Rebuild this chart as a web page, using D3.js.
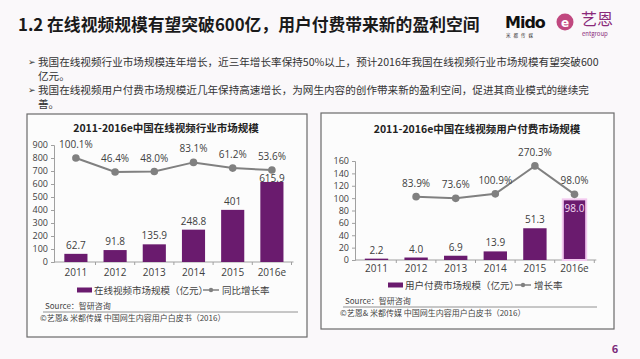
<!DOCTYPE html>
<html><head><meta charset="utf-8">
<script src="https://cdn.jsdelivr.net/npm/d3@7"></script>
<style>
html,body{margin:0;padding:0;background:#faf8fa;}
svg{display:block;font-family:"Noto Sans CJK SC","Noto Sans",sans-serif;}
</style></head>
<body>
<svg id="c" width="640" height="359"></svg>
<script>
// ---------- data ----------
const years = ["2011","2012","2013","2014","2015","2016e"];
const marketSize = [62.7, 91.8, 135.9, 248.8, 401, 615.9];
const marketGrowth = [100.1, 46.4, 48.0, 83.1, 61.2, 53.6];
const paySize = [2.2, 4.0, 6.9, 13.9, 51.3, 98.0];
const payGrowth = [null, 83.9, 73.6, 100.9, 270.3, 98.0];
const leftTicks = [0,100,200,300,400,500,600,700,800,900];
const rightTicks = [0,20,40,60,80,100,120,140,160];

const pageTitle = "1.2 在线视频规模有望突破600亿，用户付费带来新的盈利空间";
const bullets = [
  ["我国在线视频行业市场规模连年增长，近三年增长率保持50%以上，预计2016年我国在线视频行业市场规模有望突破600","亿元。"],
  ["我国在线视频用户付费市场规模近几年保持高速增长，为网生内容的创作带来新的盈利空间，促进其商业模式的继续完","善。"]
];

const svg = d3.select("#c");
const BAR = "#6a1b6e", LINE = "#808080", TXT = "#404040";

// ---------- header ----------
svg.append("text").attr("x",18).attr("y",31).attr("font-size",16.8).attr("font-weight","bold")
  .attr("fill","#1a1a1a").text(pageTitle);

// logo
const logo = svg.append("g");
logo.append("text").attr("x",505).attr("y",28).attr("font-size",16).attr("font-weight","bold")
  .attr("font-family","DejaVu Sans, sans-serif").attr("fill","#111").attr("letter-spacing",-1).text("Mido");
logo.append("text").attr("x",506).attr("y",37).attr("font-size",4.5).attr("fill","#333").attr("letter-spacing",3).text("米都传媒");
logo.append("circle").attr("cx",565).attr("cy",22).attr("r",8.5).attr("fill","#c0487f");
logo.append("text").attr("x",565).attr("y",26.5).attr("text-anchor","middle").attr("font-size",12).attr("font-weight","bold")
  .attr("fill","#fff").attr("font-family","DejaVu Sans, sans-serif").text("e");
logo.append("text").attr("x",581).attr("y",25).attr("font-size",16).attr("fill","#8a2a7a").text("艺恩");
logo.append("text").attr("x",582).attr("y",36).attr("font-size",6).attr("fill","#8a2a7a").text("entgroup");

// bullets
const by = [66, 80, 94, 108];
let li = 0;
bullets.forEach(b => {
  b.forEach((line, k) => {
    if (k === 0) svg.append("text").attr("x",28).attr("y",by[li]-1).attr("font-size",9).attr("fill","#333").text("➢");
    svg.append("text").attr("x",38).attr("y",by[li]).attr("font-size",10.6).attr("fill","#333").text(line);
    li++;
  });
});

// ---------- panels ----------
function panel(o) {
  const g = svg.append("g");
  g.append("rect").attr("x",o.box[0]).attr("y",o.box[1]).attr("width",o.box[2]).attr("height",o.box[3])
    .attr("fill","#fcfcfc").attr("stroke","#6a6a6a").attr("stroke-width",1.2);
  g.append("text").attr("x",o.titleX).attr("y",o.titleY).attr("text-anchor","middle").attr("font-size",10.5)
    .attr("font-weight","bold").attr("fill","#222").text(o.title);

  const x = d3.scaleBand().domain(years).range(o.xr).paddingInner(0.41).paddingOuter(0.205);
  const y = d3.scaleLinear().domain([0, o.ticks[o.ticks.length-1]]).range(o.yr);
  const y2 = d3.scaleLinear().domain(o.rateDom).range(o.yr);

  // y axis
  const ya = g.append("g").attr("transform",`translate(${o.axisX},0)`)
    .call(d3.axisLeft(y).tickValues(o.ticks).tickSize(3).tickPadding(3));
  ya.select(".domain").attr("stroke","#a0a0a0");
  ya.selectAll(".tick line").attr("stroke","#a0a0a0");
  ya.selectAll(".tick text").attr("font-size",9).attr("fill",TXT).attr("font-family","Open Sans, sans-serif");

  // x axis
  const xa = g.append("g").attr("transform",`translate(0,${o.yr[0]})`)
    .call(d3.axisBottom(x).tickSize(0).tickPadding(o.xPad));
  xa.select(".domain").attr("stroke","#a0a0a0").attr("d",`M${o.axisX},0H${o.xr[1]+2}`);
  xa.selectAll(".tick text").attr("font-size",10).attr("fill",TXT).attr("font-family","Open Sans, sans-serif");
  // boundary ticks
  g.selectAll(".bt").data(years).enter().append("line")
    .attr("x1",d=>x(d)+x.bandwidth()+x.step()*0.205).attr("x2",d=>x(d)+x.bandwidth()+x.step()*0.205)
    .attr("y1",o.yr[0]).attr("y2",o.yr[0]+3).attr("stroke","#a0a0a0");

  // bars
  const vals = o.size;
  const isIn = i => o.hiLast && i === vals.length-1;
  g.selectAll(".bar").data(vals).enter().append("rect")
    .attr("x",(d,i)=>x(years[i])).attr("width",x.bandwidth())
    .attr("y",d=>y(d)).attr("height",d=>y(0)-y(d)).attr("fill",BAR)
    .attr("stroke",(d,i)=>isIn(i) ? "#f3c9ef" : "none").attr("stroke-width",2);
  g.selectAll(".bl").data(vals).enter().append("text")
    .attr("x",(d,i)=>x(years[i])+x.bandwidth()/2)
    .attr("y",(d,i)=> {
      if (isIn(i)) return y(d)+13;
      const r = o.rate[i];
      const above = y(d)-5;
      return r === null ? above : Math.max(above, y2(r)+12);
    })
    .attr("text-anchor","middle").attr("font-size",10).attr("font-family","Open Sans, sans-serif")
    .attr("fill",(d,i)=> isIn(i) ? "#f6dcf4" : TXT)
    .text(o.fmt);

  // line
  const pts = o.rate.map((r,i)=>({r, i})).filter(p=>p.r!==null);
  const cx = p => x(years[p.i]) + x.bandwidth()/2;
  g.append("path").datum(pts).attr("fill","none").attr("stroke",LINE).attr("stroke-width",2)
    .attr("d", d3.line().x(cx).y(p=>y2(p.r)));
  g.selectAll(".pt").data(pts).enter().append("circle")
    .attr("cx",cx).attr("cy",p=>y2(p.r)).attr("r",3.8).attr("fill",LINE);
  g.selectAll(".pl").data(pts).enter().append("text")
    .attr("x",cx).attr("y",p=>y2(p.r)-10).attr("text-anchor","middle").attr("font-size",10)
    .attr("font-family","Open Sans, sans-serif").attr("fill",TXT).text(p=>p.r.toFixed(1)+"%");

  // legend
  const L = o.legend;
  g.append("rect").attr("x",L.x).attr("y",L.y-2.5).attr("width",15).attr("height",5).attr("fill",BAR);
  g.append("text").attr("x",L.x+17).attr("y",L.y+3.5).attr("font-size",9.5).attr("fill",TXT).text(L.t1);
  g.append("line").attr("x1",L.x2).attr("x2",L.x2+16).attr("y1",L.y).attr("y2",L.y).attr("stroke",LINE).attr("stroke-width",1.5);
  g.append("circle").attr("cx",L.x2+8).attr("cy",L.y).attr("r",2.2).attr("fill",LINE);
  g.append("text").attr("x",L.x2+19).attr("y",L.y+3.5).attr("font-size",9.5).attr("fill",TXT).text(L.t2);

  // source + copyright
  g.append("text").attr("x",o.src[0]).attr("y",o.src[1]+3).attr("font-size",8).attr("fill","#444").text("Source：智研咨询");
  g.append("line").attr("x1",o.src[0]-2).attr("x2",o.src[2]).attr("y1",o.src[1]+6).attr("y2",o.src[1]+6)
    .attr("stroke","#777").attr("stroke-width",0.8);
  g.append("text").attr("x",o.src[0]-5).attr("y",o.src[1]+15).attr("font-size",8).attr("fill","#444")
    .text("©艺恩& 米都传媒 中国网生内容用户白皮书（2016）");
}

panel({
  box:[27,114,280,223], title:"2011-2016e中国在线视频行业市场规模", titleX:166, titleY:132,
  xr:[56.3,291.5], yr:[262,145], axisX:54, ticks:leftTicks, rateDom:[-300,150], xPad:7,
  size:marketSize, rate:marketGrowth, fmt:d=>String(d), hiLast:false,
  legend:{x:77, y:290, t1:"在线视频市场规模（亿元）", x2:203, t2:"同比增长率"},
  src:[45,306,298]
});
panel({
  box:[321,113,293,216], title:"2011-2016e中国在线视频用户付费市场规模", titleX:477, titleY:133,
  xr:[356.7,594.3], yr:[260,161], axisX:355, ticks:rightTicks, rateDom:[-300,300], xPad:5,
  size:paySize, rate:payGrowth, fmt:d=>d.toFixed(1), hiLast:true,
  legend:{x:388, y:285, t1:"用户付费市场规模（亿元）", x2:515, t2:"增长率"},
  src:[345,301,597]
});

// page number
svg.append("text").attr("x",615).attr("y",353).attr("text-anchor","middle").attr("font-size",11)
  .attr("font-weight","bold").attr("fill","#7a2a7a").text("6");
</script>
</body></html>
